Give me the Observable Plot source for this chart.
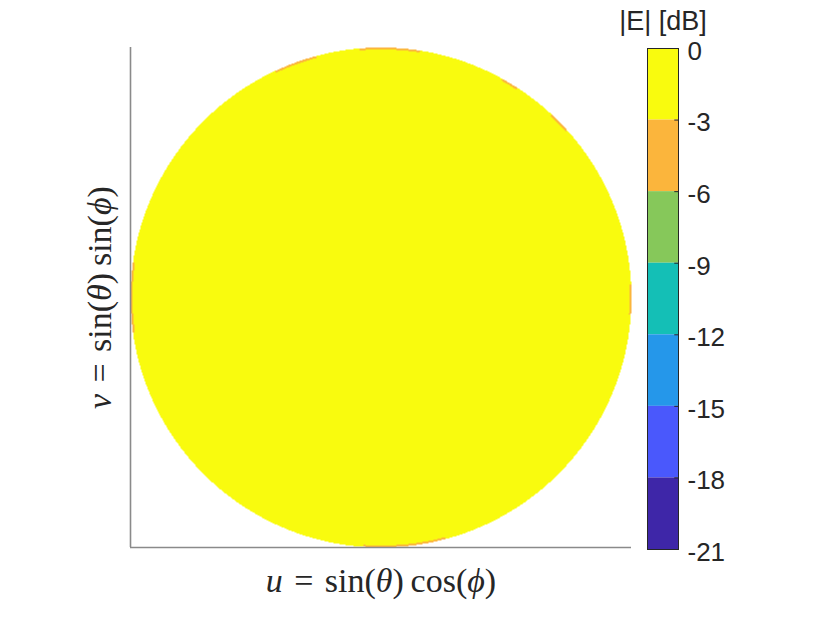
<!DOCTYPE html>
<html><head><meta charset="utf-8">
<script src="https://cdn.jsdelivr.net/npm/d3@7"></script>
<script src="https://cdn.jsdelivr.net/npm/@observablehq/plot@0.6"></script>
<style>
body{margin:0;background:#fff}
#chart{position:relative;width:822px;height:617px}
#chart svg{position:absolute;left:0;top:0;overflow:visible;background:none}
</style>
</head><body><div id="chart"></div>
<script>
// ---- data ----
const levels = [0, -3, -6, -9, -12, -15, -18, -21];          // colorbar contour levels (dB)
const tickLabels = ["0", "-3", "-6", "-9", "-12", "-15", "-18", "-21"];
const bandColors = ["#3e26a8", "#4a58fc", "#2597ea", "#14bfb6", "#86c85a", "#fbb53c", "#f9fb0e"]; // low -> high
const patternDb = 0;      // |E| level over the visible region
const fringeDb = -4;      // thin rim level seen at the disk edge
const fringeArcs = [[42, 47], [57, 61], [81, 95], [105, 115], [172, 188], [266, 285], [356, 360], [0, 3]]; // degrees
const xLabel = "u\u2004=\u2004sin(θ)\u2009cos(ϕ)";
const yLabel = "v\u2004=\u2004sin(θ)\u2009sin(ϕ)";
const cbTitle = "|E| [dB]";

const bands = levels.slice(1).map((lo, i) => ({lo, hi: levels[i]}));
const colorOpts = {type: "threshold", domain: [-18, -15, -12, -9, -6, -3], range: bandColors};

function field(u, v) {
  const r2 = u * u + v * v;
  if (r2 > 1) return NaN;
  if (r2 > 0.984) {
    let a = Math.atan2(v, u) * 180 / Math.PI; if (a < 0) a += 360;
    if (fringeArcs.some(([a0, a1]) => a >= a0 && a <= a1)) return fringeDb;
  }
  return patternDb;
}

const main = Plot.plot({
  width: 822, height: 617,
  marginLeft: 130, marginRight: 191, marginTop: 47, marginBottom: 70,
  x: {domain: [-1, 1], axis: null},
  y: {domain: [-1, 1], axis: null},
  color: colorOpts,
  style: {fontFamily: "Liberation Serif, DejaVu Serif, serif", background: "none"},
  marks: [
    Plot.raster({x1: -1, x2: 1, y1: -1, y2: 1, pixelSize: 1, fill: field}),
    Plot.ruleX([-1], {stroke: "#8a8a8a", strokeWidth: 1.6}),
    Plot.ruleY([-1], {stroke: "#8a8a8a", strokeWidth: 1.6}),
    Plot.text([xLabel], {text: d => d, frameAnchor: "bottom", textAnchor: "middle", lineAnchor: "middle", dy: 34, fontSize: 34, fill: "#262626", className: "mathlabel"}),
    Plot.text([yLabel], {text: d => d, frameAnchor: "left", textAnchor: "middle", lineAnchor: "middle", rotate: -90, dx: -30, fontSize: 34, fill: "#262626", className: "mathlabel"})
  ]
});

const cbar = Plot.plot({
  width: 822, height: 617,
  marginLeft: 647, marginRight: 144, marginTop: 48, marginBottom: 68,
  x: {domain: [0, 1], axis: null},
  y: {domain: [-21, 0], axis: null},
  color: colorOpts,
  style: {fontFamily: "Liberation Sans, Arial, sans-serif", background: "none"},
  marks: [
    Plot.rect(bands, {x1: 0, x2: 1, y1: "lo", y2: "hi", fill: "lo"}),
    Plot.ruleY(levels.slice(1, -1), {x1: 0.88, x2: 1, stroke: "#262626", strokeWidth: 1}),
    Plot.frame({stroke: "#262626", strokeWidth: 1}),
    Plot.text(levels, {y: d => d, text: d => tickLabels[levels.indexOf(d)], frameAnchor: "right", textAnchor: "start", dx: 9, dy: 3, fontSize: 26, fill: "#262626"}),
    Plot.text([cbTitle], {text: d => d, frameAnchor: "top", lineAnchor: "middle", dy: -27, fontSize: 27, fill: "#262626"})
  ]
});

// render math-style labels: italic variables, roman function names
for (const t of main.querySelectorAll("g.mathlabel text")) {
  const s = t.textContent;
  t.textContent = "";
  for (const ch of s) {
    const ts = document.createElementNS("http://www.w3.org/2000/svg", "tspan");
    ts.textContent = ch;
    if ("uvθϕ".includes(ch)) ts.setAttribute("font-style", "italic");
    t.appendChild(ts);
  }
}

const el = document.getElementById("chart");
el.appendChild(main);
el.appendChild(cbar);
</script>
</body></html>
